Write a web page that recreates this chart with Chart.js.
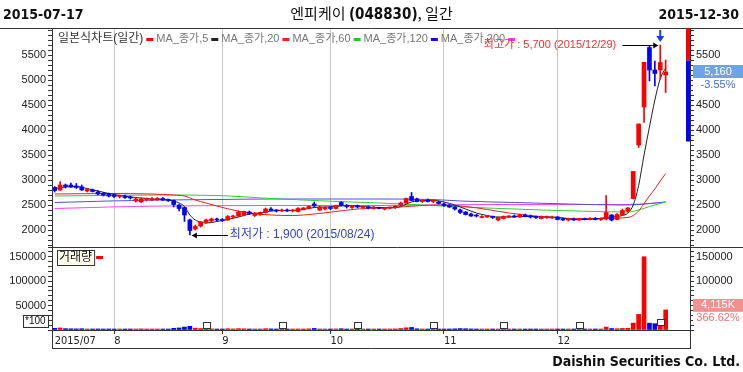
<!DOCTYPE html>
<html>
<head>
<meta charset="utf-8">
<script src="https://cdn.jsdelivr.net/npm/chart.js@4.4.1/dist/chart.umd.min.js"></script>
<style>
  html, body { margin: 0; padding: 0; background: #fff; }
  #box { position: relative; width: 743px; height: 372px; overflow: hidden; }
  #c { position: absolute; left: 0; top: 0; }
  .t { position: absolute; white-space: nowrap; color: #111; font-family: "Liberation Sans Narrow", "DejaVu Sans Condensed", "Liberation Sans", sans-serif; font-stretch: condensed; font-weight: bold; font-size: 14px; line-height: 16px; }
</style>
</head>
<body>
<div id="box">
  <canvas id="c" width="743" height="372"></canvas>
  <div class="t" style="left:3px;top:6px">2015-07-17</div>
  <div class="t" style="left:0;width:743px;top:5px;text-align:center;font-weight:normal;font-size:15px;font-family:'Noto Sans CJK KR','Liberation Sans',sans-serif">엔피케이 <b style="font-family:'Liberation Sans Narrow','DejaVu Sans Condensed',sans-serif">(048830)</b>, 일간</div>
  <div class="t" style="right:4px;top:6px">2015-12-30</div>
  <div class="t" style="right:3px;top:353px">Daishin Securities Co. Ltd.</div>
</div>
<script>
// trading days 2015-07-17 .. 2015-12-30
const year = 2015;
const dates = [
  '07/17','07/20','07/21','07/22','07/23','07/24','07/27','07/28','07/29','07/30','07/31',
  '08/03','08/04','08/05','08/06','08/07','08/10','08/11','08/12','08/13','08/17','08/18','08/19','08/20','08/21','08/24','08/25','08/26','08/27','08/28','08/31',
  '09/01','09/02','09/03','09/04','09/07','09/08','09/09','09/10','09/11','09/14','09/15','09/16','09/17','09/18','09/21','09/22','09/23','09/24','09/25','09/30',
  '10/01','10/02','10/05','10/06','10/07','10/08','10/12','10/13','10/14','10/15','10/16','10/19','10/20','10/21','10/22','10/23','10/26','10/27','10/28','10/29','10/30',
  '11/02','11/03','11/04','11/05','11/06','11/09','11/10','11/11','11/12','11/13','11/16','11/17','11/18','11/19','11/20','11/23','11/24','11/25','11/26','11/27','11/30',
  '12/01','12/02','12/03','12/04','12/07','12/08','12/09','12/10','12/11','12/14','12/15','12/16','12/17','12/18','12/21','12/22','12/23','12/24','12/28','12/29','12/30'
];

const open = [2850,2800,2900,2900,2880,2860,2780,2800,2760,2730,2720,
  2700,2670,2680,2650,2580,2560,2610,2600,2610,2630,2610,2590,2500,2450,2200,2020,2080,2150,2180,2220,
  2210,2200,2260,2280,2300,2360,2290,2310,2350,2420,2390,2380,2400,2380,2370,2420,2440,2520,2400,2420,
  2440,2430,2550,2480,2450,2470,2450,2460,2430,2440,2420,2440,2450,2500,2540,2670,2620,2570,2600,2570,2560,
  2520,2490,2460,2400,2360,2320,2290,2250,2260,2270,2200,2230,2260,2280,2260,2300,2280,2260,2230,2250,2240,
  2260,2220,2200,2220,2200,2220,2210,2230,2210,2220,2300,2210,2300,2380,2630,3700,4460,5650,5200,5200,5100];
const high = [2870,2970,2920,2940,2930,2900,2830,2820,2790,2750,2740,
  2720,2700,2700,2680,2650,2640,2640,2650,2650,2650,2620,2600,2510,2460,2220,2100,2170,2220,2240,2240,
  2230,2290,2300,2380,2380,2380,2350,2360,2440,2450,2410,2420,2420,2410,2450,2450,2480,2560,2480,2470,
  2470,2500,2570,2510,2490,2500,2480,2480,2470,2460,2450,2460,2490,2560,2640,2750,2640,2610,2620,2600,2580,
  2540,2510,2480,2420,2370,2340,2310,2290,2290,2280,2260,2280,2290,2300,2320,2320,2300,2280,2280,2280,2280,
  2270,2240,2230,2240,2230,2240,2250,2250,2240,2690,2310,2330,2420,2450,3170,4120,5355,5680,5380,5700,5400];
const low = [2760,2790,2840,2850,2830,2790,2760,2760,2700,2680,2660,
  2650,2640,2630,2620,2560,2550,2580,2590,2590,2590,2570,2460,2380,2170,1900,2000,2060,2130,2160,2180,
  2170,2190,2230,2270,2280,2310,2270,2290,2340,2380,2360,2370,2370,2360,2360,2400,2420,2460,2390,2400,
  2410,2420,2480,2440,2430,2440,2430,2420,2420,2420,2400,2420,2430,2480,2530,2580,2560,2550,2560,2550,2520,
  2470,2450,2400,2330,2300,2270,2260,2240,2250,2230,2180,2220,2250,2250,2250,2260,2240,2230,2220,2230,2230,
  2200,2190,2180,2190,2190,2200,2200,2200,2190,2200,2180,2200,2290,2360,2620,3650,4150,4980,4880,5020,4750];
const close = [2790,2900,2870,2860,2850,2800,2810,2770,2720,2700,2680,
  2670,2680,2650,2640,2620,2620,2620,2610,2620,2600,2590,2510,2430,2300,1990,2070,2160,2200,2220,2200,
  2190,2270,2280,2360,2370,2330,2340,2350,2420,2390,2380,2400,2380,2400,2430,2440,2470,2480,2460,2450,
  2430,2490,2490,2470,2480,2460,2470,2440,2450,2430,2440,2450,2480,2540,2630,2590,2570,2590,2570,2590,2530,
  2490,2460,2420,2350,2310,2280,2280,2270,2270,2250,2250,2270,2280,2260,2300,2270,2260,2250,2260,2270,2260,
  2210,2200,2220,2200,2220,2210,2230,2210,2230,2350,2200,2310,2390,2440,3170,4120,5355,5200,5130,5350,5160];
// volume, x100 shares
const volume = [3500,4200,2800,2500,2300,2600,2000,1800,2200,1900,2100,
  1800,1700,1900,1600,2000,2300,1700,1500,1600,1800,1900,3500,4200,6000,7500,3800,3000,2600,2400,2000,
  1900,2600,2200,2800,2500,2100,1800,2000,2700,2300,1900,1700,1600,1800,2100,1900,2400,3200,2000,1800,
  1700,2200,2600,2000,1800,1600,1700,1500,1600,1500,1700,1800,2300,3000,4500,5200,2500,2100,1900,1800,1700,
  2000,2100,2400,2900,2600,2200,1900,1800,1700,1800,1900,2100,1800,1700,2000,1900,1700,1600,1700,1600,1500,
  1800,1700,1600,1500,1600,1500,1700,1600,1800,6000,3000,2600,3200,3500,14000,32000,150000,14000,13000,8819,41151];

// moving averages: [day index, value]
const ma5 = [[0,2830],[2,2860],[4,2870],[6,2830],[8,2780],[10,2730],[12,2690],[14,2660],[16,2640],[18,2620],[20,2610],
  [21,2600],[22,2580],[23,2540],[24,2470],[25,2300],[26,2200],[27,2160],[28,2140],[29,2150],[30,2170],[32,2210],[34,2260],
  [36,2320],[38,2340],[40,2380],[42,2390],[44,2390],[46,2410],[48,2450],[50,2460],[52,2470],[54,2490],[56,2480],[58,2460],
  [60,2450],[62,2440],[64,2470],[66,2560],[68,2590],[70,2590],[72,2560],[74,2500],[76,2420],[78,2340],[80,2290],[82,2260],
  [84,2260],[86,2270],[88,2270],[90,2260],[92,2260],[94,2240],[96,2210],[98,2210],[100,2220],[102,2250],[104,2270],
  [105,2290],[106,2340],[107,2500],[108,2890],[109,3500],[110,4060],[111,4600],[112,5030],[113,5240]];
const ma20 = [[0,2720],[10,2730],[18,2720],[22,2700],[24,2680],[26,2600],[28,2540],[30,2480],[33,2400],[36,2340],[40,2300],
  [44,2290],[48,2320],[52,2370],[56,2420],[60,2440],[64,2460],[68,2490],[72,2500],[76,2470],[80,2410],[84,2340],[88,2290],
  [92,2250],[96,2230],[100,2230],[104,2240],[106,2250],[107,2290],[108,2380],[109,2530],[110,2680],[111,2820],[112,2980],[113,3130]];
const ma60 = [[0,2680],[20,2700],[30,2690],[40,2630],[50,2580],[60,2540],[70,2490],[80,2440],[90,2400],[100,2370],
  [106,2360],[108,2400],[110,2470],[113,2560]];
const ma120 = [[0,2550],[10,2580],[20,2600],[30,2610],[40,2620],[60,2620],[70,2610],[75,2580],[85,2550],[95,2520],
  [105,2500],[108,2510],[113,2560]];
const ma200 = [[0,2430],[10,2460],[20,2480],[40,2490],[60,2490],[70,2500],[80,2510],[90,2510],[100,2510],[106,2510],
  [110,2530],[113,2560]];

const monthStart = [0, 11, 31, 51, 72, 93];
const monthLabel = ['2015/07', '8', '9', '10', '11', '12'];
const noticeDays = [28, 42, 56, 70, 83, 97, 112];
const sideBarUp = [5390, 6040];
const sideBarDown = [3770, 5390];

const RED = '#ff0000', BLUE = '#0000ff';
const up = i => close[i] >= open[i];
const candleColor = c => up(c.dataIndex) ? RED : BLUE;
const pts = arr => arr.map(p => ({ x: p[0], y: p[1] }));
const fmt = n => n.toLocaleString('en-US');

const NUM = '"Liberation Sans", Arial, sans-serif';
const NARROW = '"Liberation Sans Narrow", "DejaVu Sans Condensed", "Liberation Sans", sans-serif';
const KR = '"Liberation Sans", "Noto Sans CJK KR", sans-serif';

function lineSet(label, arr, color) {
  return { type: 'line', label, data: pts(arr), yAxisID: 'y', borderColor: color, borderWidth: 1,
    pointRadius: 0, cubicInterpolationMode: 'monotone', order: 1 };
}

const overlay = {
  id: 'overlay',
  afterDraw(chart) {
    const { ctx, chartArea: a, scales: { x, y, v } } = chart;
    const px = i => x.getPixelForValue(i);
    const r = n => Math.round(n) + 0.5;
    ctx.save();
    ctx.lineWidth = 1;
    ctx.strokeStyle = '#333';
    const seg = (x0, y0, x1, y1) => { ctx.beginPath(); ctx.moveTo(x0, y0); ctx.lineTo(x1, y1); ctx.stroke(); };
    const boxBottom = a.bottom + x.height;
    seg(0, r(a.top), 743, r(a.top));
    seg(a.left, r(v.top), 743, r(v.top));
    seg(r(a.left), a.top, r(a.left), boxBottom);
    seg(r(a.right), a.top, r(a.right), boxBottom);
    seg(a.left, r(boxBottom), a.right + 1, r(boxBottom));

    // range bar at right edge of price panel
    ctx.fillStyle = RED;
    ctx.fillRect(a.right - 4, y.getPixelForValue(sideBarUp[1]), 4, y.getPixelForValue(sideBarUp[0]) - y.getPixelForValue(sideBarUp[1]));
    ctx.fillStyle = BLUE;
    ctx.fillRect(a.right - 4, y.getPixelForValue(sideBarDown[1]), 4, y.getPixelForValue(sideBarDown[0]) - y.getPixelForValue(sideBarDown[1]));

    // legend of price panel
    ctx.textBaseline = 'middle';
    ctx.textAlign = 'left';
    let lx = 58;
    const ly = 39;
    const items = [['일본식차트(일간)', RED, '#333', '12px ' + KR], ['MA_종가,5', '#222', '#777', '11px ' + KR],
      ['MA_종가,20', '#ee2020', '#777', '11px ' + KR], ['MA_종가,60', '#22cc22', '#777', '11px ' + KR],
      ['MA_종가,120', '#1010dd', '#777', '11px ' + KR], ['MA_종가,200', '#ff33ff', '#777', '11px ' + KR]];
    items.forEach(([txt, col, tc, f]) => {
      ctx.font = f; ctx.fillStyle = tc;
      ctx.fillText(txt, lx, ly);
      lx += ctx.measureText(txt).width + 3;
      ctx.fillStyle = col; ctx.fillRect(lx, ly - 1, 7, 3);
      lx += 10;
    });

    // highest / lowest markers
    const hi = high.indexOf(Math.max(...high));
    const lo = low.indexOf(Math.min(...low));
    const arrow = (x0, x1, yy) => {
      ctx.strokeStyle = '#000'; ctx.fillStyle = '#000';
      seg(x0, r(yy), x1, r(yy));
      const d = x1 > x0 ? -1 : 1;
      ctx.beginPath(); ctx.moveTo(x1, r(yy)); ctx.lineTo(x1 + d * 5, r(yy) - 3); ctx.lineTo(x1 + d * 5, r(yy) + 3); ctx.closePath(); ctx.fill();
    };
    const hx = px(hi), hy = y.getPixelForValue(high[hi]);
    arrow(hx - 38, hx - 2, hy);
    ctx.font = '11px ' + KR; ctx.fillStyle = '#f03030'; ctx.textAlign = 'right';
    ctx.fillText('최고가 : ' + fmt(high[hi]) + ' (' + year + '/' + dates[hi] + ')', hx - 44, hy);
    ctx.strokeStyle = '#1a3fe0'; ctx.fillStyle = '#1a3fe0'; ctx.lineWidth = 2;
    seg(hx, a.top + 2, hx, hy - 8);
    ctx.beginPath(); ctx.moveTo(hx, hy - 3); ctx.lineTo(hx - 4, hy - 9); ctx.lineTo(hx + 4, hy - 9); ctx.closePath(); ctx.fill();
    ctx.lineWidth = 1;
    const lxp = px(lo), lyp = y.getPixelForValue(low[lo]);
    arrow(lxp + 38, lxp + 2, lyp);
    ctx.textAlign = 'left'; ctx.fillStyle = '#3344cc';
    ctx.font = '12px ' + KR;
    ctx.fillText('최저가 : ' + fmt(low[lo]) + ' (' + year + '/' + dates[lo] + ')', lxp + 40, lyp);

    // last price tag
    const n = close.length - 1;
    const cy = y.getPixelForValue(close[n]);
    ctx.fillStyle = '#6ea4e6'; ctx.fillRect(a.right + 3, cy - 7, 743 - a.right - 3, 13);
    ctx.fillStyle = '#fff'; ctx.fillRect(a.right + 3, cy + 6, 743 - a.right - 3, 13);
    ctx.textAlign = 'center'; ctx.font = '11px ' + NUM;
    ctx.fillStyle = '#fff'; ctx.fillText(fmt(close[n]), 718, cy);
    ctx.fillStyle = '#3b6fd8';
    ctx.fillText(((close[n] / close[n - 1] - 1) * 100).toFixed(2) + '%', 718, cy + 13);

    // last volume tag
    const vy = v.getPixelForValue(volume[n]) - 5;
    ctx.fillStyle = '#f39090'; ctx.fillRect(a.right + 3, vy - 6, 743 - a.right - 3, 13);
    ctx.fillStyle = '#fff'; ctx.fillRect(a.right + 3, vy + 7, 743 - a.right - 3, 12);
    ctx.fillStyle = '#fff'; ctx.fillText(fmt(Math.floor(volume[n] / 10)) + 'K', 718, vy);
    ctx.fillStyle = '#f07070';
    ctx.fillText(((volume[n] / volume[n - 1] - 1) * 100).toFixed(2) + '%', 718, vy + 13);

    // volume legend and unit box
    ctx.textAlign = 'left';
    ctx.font = '12px ' + KR;
    const vt = v.top;
    const w = ctx.measureText('거래량').width + 4;
    ctx.fillStyle = '#ffffee'; ctx.fillRect(a.left + 5, vt + 3, w, 15);
    ctx.strokeStyle = '#333'; ctx.strokeRect(r(a.left + 5), r(vt + 3), w, 15);
    ctx.fillStyle = '#111'; ctx.fillText('거래량', a.left + 7, vt + 11);
    ctx.fillStyle = RED; ctx.fillRect(a.left + 7 + w, vt + 9, 7, 3);
    ctx.font = '10px ' + NUM;
    ctx.fillStyle = '#fff'; ctx.fillRect(23, a.bottom - 15, 25, 12);
    ctx.strokeRect(r(23), r(a.bottom - 15), 25, 12);
    ctx.fillStyle = '#111'; ctx.fillText('*100', 25, a.bottom - 9);

    // disclosure markers on volume panel
    ctx.strokeStyle = '#333'; ctx.fillStyle = '#fff';
    noticeDays.forEach(i => {
      const mx = px(i), my = v.getPixelForValue(volume[i]) - 4;
      ctx.fillRect(Math.round(mx) - 3, Math.round(my) - 3, 7, 6);
      ctx.strokeRect(Math.round(mx) - 3 + 0.5, Math.round(my) - 3 + 0.5, 7, 6);
    });
    ctx.restore();
  }
};

const leftW = 52, rightW = 53;
const yTick = (step, major, skipZero, maxLabel) => ({
  stepSize: step, autoSkip: false, includeBounds: false, padding: 2, color: '#222',
  font: { family: NUM, size: 11 },
  callback: val => (val % major === 0 && val <= maxLabel && !(skipZero && val === 0)) ? String(val) : ''
});
const yGrid = { drawOnChartArea: false, tickLength: 4, tickColor: '#333' };

new Chart(document.getElementById('c'), {
  type: 'bar',
  data: {
    datasets: [
      { label: 'wick', data: dates.map((d, i) => ({ x: i, y: [low[i], high[i]] })), yAxisID: 'y',
        backgroundColor: candleColor, barThickness: 1, grouped: false, minBarLength: 1, order: 0 },
      { label: 'body', data: dates.map((d, i) => ({ x: i, y: [open[i], close[i]] })), yAxisID: 'y',
        backgroundColor: candleColor, barThickness: 4, grouped: false, minBarLength: 1, order: 0 },
      lineSet('MA_종가,5', ma5, '#222222'),
      lineSet('MA_종가,20', ma20, '#ee2020'),
      lineSet('MA_종가,60', ma60, '#33cc33'),
      lineSet('MA_종가,120', ma120, '#5050e0'),
      lineSet('MA_종가,200', ma200, '#ff44ff'),
      { label: '거래량', data: dates.map((d, i) => ({ x: i, y: volume[i] })), yAxisID: 'v',
        backgroundColor: candleColor, barThickness: 4, grouped: false, minBarLength: 1, order: 0 }
    ]
  },
  options: {
    responsive: false,
    animation: false,
    layout: { padding: { top: 28, bottom: 24, left: 0, right: 0 } },
    plugins: { legend: { display: false }, tooltip: { enabled: false }, title: { display: false } },
    scales: {
      x: {
        type: 'linear', min: -0.5, max: 117.5, offset: false,
        afterFit: s => { s.height = 18; },
        afterBuildTicks: s => { s.ticks = monthStart.map(vv => ({ value: vv })); },
        ticks: { autoSkip: false, align: 'start', maxRotation: 0, padding: 1, color: '#222',
          font: { family: NARROW, size: 11 }, callback: (val, i) => monthLabel[i] },
        grid: { offset: false, tickLength: 4,
          color: c => (c.tick && c.tick.value > 0) ? '#c8c8c8' : 'rgba(0,0,0,0)',
          tickColor: c => (c.tick && c.tick.value > 0) ? '#333' : 'rgba(0,0,0,0)' },
        border: { color: '#333' }
      },
      v: {
        position: 'left', stack: 'left', stackWeight: 83, min: 0, max: 170000,
        afterFit: s => { s.width = leftW; },
        ticks: yTick(10000, 50000, true, 150000), grid: yGrid, border: { color: '#333' }
      },
      y: {
        position: 'left', stack: 'left', stackWeight: 219, min: 1660, max: 6040,
        afterFit: s => { s.width = leftW; },
        ticks: yTick(100, 500, false, 5500), grid: yGrid, border: { color: '#333' }
      },
      yR: {
        position: 'right', stack: 'right', stackWeight: 219, min: 1660, max: 6040,
        afterFit: s => { s.width = rightW; },
        ticks: yTick(100, 500, false, 5500), grid: yGrid, border: { color: '#333' }
      },
      vR: {
        position: 'right', stack: 'right', stackWeight: 83, min: 0, max: 170000,
        afterFit: s => { s.width = rightW; },
        ticks: yTick(10000, 50000, true, 150000), grid: yGrid, border: { color: '#333' }
      }
    }
  },
  plugins: [overlay]
});
</script>
</body>
</html>
